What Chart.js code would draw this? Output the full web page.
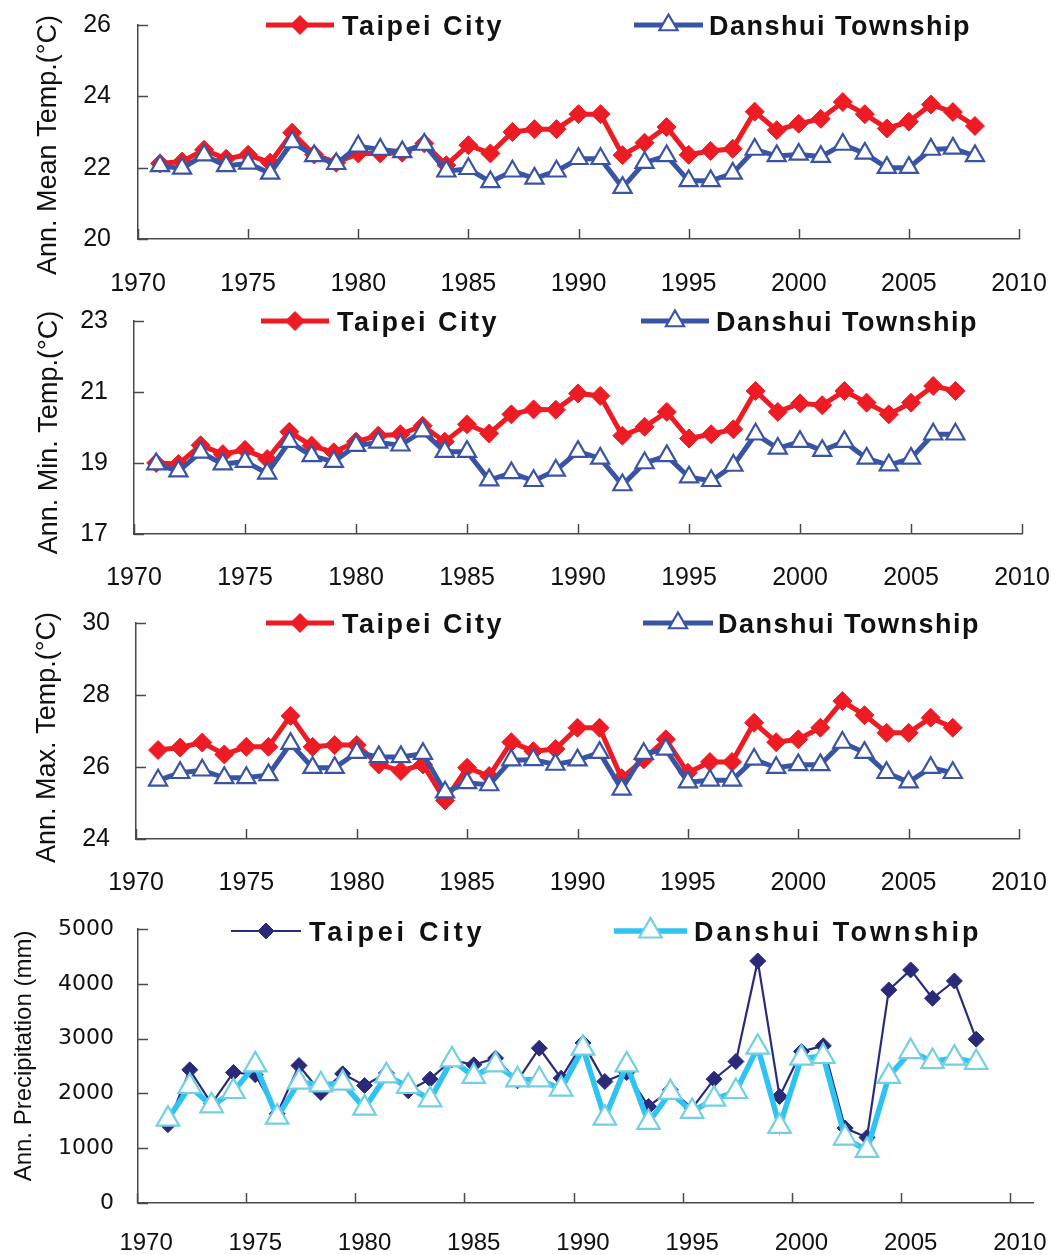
<!DOCTYPE html>
<html>
<head>
<meta charset="utf-8">
<script src="https://cdn.jsdelivr.net/npm/chart.js@4.4.0/dist/chart.umd.min.js"></script>
<style>
html,body{margin:0;padding:0;background:#fff;}
#wrap{position:relative;width:1055px;height:1255px;overflow:hidden;}
.p{position:absolute;left:0;width:1055px;}
canvas{display:block;}
</style>
</head>
<body>
<div id="wrap">
  <div class="p" style="top:0px"><canvas id="c1" width="1055" height="300"></canvas></div>
  <div class="p" style="top:300px"><canvas id="c2" width="1055" height="300"></canvas></div>
  <div class="p" style="top:600px"><canvas id="c3" width="1055" height="300"></canvas></div>
  <div class="p" style="top:900px"><canvas id="c4" width="1055" height="355"></canvas></div>
</div>
<script>
// ---------------- DATA ----------------
const seriesNames = ['Taipei City', 'Danshui Township'];

const years38 = [1971,1972,1973,1974,1975,1976,1977,1978,1979,1980,
                 1981,1982,1983,1984,1985,1986,1987,1988,1989,1990,
                 1991,1992,1993,1994,1995,1996,1997,1998,1999,2000,
                 2001,2002,2003,2004,2005,2006,2007,2008];
const years37 = [1971,1972,1973,1974,1975,1976,1977,1978,1979,1980,
                 1981,1982,1983,1984,1985,1986,1987,1988,1989,1990,
                 1991,1992,1993,1994,1995,1996,1997,1998,1999,2000,
                 2001,2002,2003,2004,2005,2006,2007];

const meanTaipei  = [22.12,22.17,22.50,22.25,22.36,22.14,22.98,22.37,22.14,22.40,
                     22.40,22.42,22.68,22.07,22.63,22.40,23.00,23.08,23.08,23.50,
                     23.50,22.35,22.70,23.14,22.36,22.47,22.53,23.57,23.05,23.23,
                     23.37,23.84,23.50,23.10,23.29,23.77,23.56,23.17];
const meanDanshui = [22.05,21.98,22.35,22.05,22.12,21.84,22.72,22.33,22.11,22.60,
                     22.51,22.44,22.65,21.90,21.97,21.60,21.90,21.70,21.90,22.25,
                     22.25,21.44,22.14,22.33,21.63,21.63,21.84,22.51,22.33,22.37,
                     22.31,22.65,22.40,22.00,22.00,22.51,22.54,22.33];

const minTaipei   = [19.00,18.97,19.50,19.25,19.37,19.11,19.88,19.49,19.30,19.60,
                     19.77,19.81,20.05,19.60,20.09,19.83,20.37,20.51,20.50,20.96,
                     20.89,19.77,20.02,20.44,19.69,19.81,19.95,21.03,20.44,20.68,
                     20.63,21.03,20.70,20.37,20.70,21.17,21.03];
const minDanshui  = [18.97,18.77,19.30,18.97,19.04,18.71,19.60,19.20,19.04,19.49,
                     19.58,19.50,19.90,19.32,19.32,18.52,18.72,18.50,18.79,19.32,
                     19.13,18.38,19.00,19.20,18.60,18.50,18.93,19.81,19.41,19.60,
                     19.35,19.60,19.13,18.94,19.13,19.81,19.81];

const maxTaipei   = [26.47,26.54,26.68,26.35,26.56,26.56,27.42,26.56,26.61,26.61,
                     26.07,25.89,26.07,25.07,25.98,25.75,26.69,26.44,26.50,27.09,
                     27.09,25.69,26.21,26.77,25.84,26.14,26.14,27.23,26.69,26.77,
                     27.09,27.83,27.44,26.95,26.95,27.37,27.09];
const maxDanshui  = [25.63,25.84,25.91,25.70,25.70,25.78,26.65,25.98,25.98,26.40,
                     26.28,26.28,26.37,25.30,25.56,25.50,26.19,26.20,26.07,26.19,
                     26.40,25.38,26.37,26.49,25.58,25.63,25.63,26.21,25.98,26.06,
                     26.06,26.68,26.40,25.84,25.58,25.98,25.84];

const precipTaipei  = [1430,2430,1810,2382,2340,1628,2509,2017,2357,2145,
                       2370,2047,2260,2612,2521,2643,2230,2825,2278,2920,
                       2217,2381,1762,2065,1731,2260,2582,4417,1944,2764,
                       2868,1367,1197,3888,4253,3736,4052,2989];
const precipDanshui = [1531,2126,1774,2035,2521,1567,2205,2157,2187,1731,
                       2321,2126,1883,2612,2309,2521,2248,2248,2078,2825,
                       1549,2521,1470,2017,1671,1895,2035,2843,1397,2643,
                       2673,1185,960,2309,2764,2582,2643,2564];

const xTickValues = [1970,1975,1980,1985,1990,1995,2000,2005,2010];
const xTickLabels = ['1970','1975','1980','1985','1990','1995','2000','2005','2010'];
const meanTicks   = [20,22,24,26];
const minTicks    = [17,19,21,23];
const maxTicks    = [24,26,28,30];
const precipTicks = [0,1000,2000,3000,4000,5000];
const precipTickLabels = ['0','1000','2000','3000','4000','5000'];

// ---------------- STYLE ----------------
const SANS = "'Liberation Sans', Arial, Helvetica, sans-serif";
const RED = '#ED1C24', BLUE = '#3A54A5', NAVY = '#2B2A78', SKY = '#2FC3F1', SKYMK = '#72D0E2';
const AXIS = '#4a4a4a';

function pts(xs, ys) { return xs.map((x, i) => ({x: x, y: ys[i]})); }

function drawMarker(ctx, ds, x, y) {
  const o = {pointStyle: ds.pointStyle, radius: ds.pointRadius, borderWidth: ds.pointBorderWidth, rotation: 0};
  ctx.save();
  ctx.fillStyle = ds.pointBackgroundColor;
  ctx.strokeStyle = ds.pointBorderColor;
  ctx.lineWidth = ds.pointBorderWidth;
  if (Chart.helpers && Chart.helpers.drawPoint) {
    Chart.helpers.drawPoint(ctx, o, x, y);
  } else {
    const r = ds.pointRadius;
    ctx.beginPath();
    if (ds.pointStyle === 'triangle') {
      ctx.moveTo(x, y - r);
      ctx.lineTo(x + Math.sin(2*Math.PI/3) * r, y - Math.cos(2*Math.PI/3) * r);
      ctx.lineTo(x + Math.sin(4*Math.PI/3) * r, y - Math.cos(4*Math.PI/3) * r);
    } else {
      ctx.moveTo(x - r, y); ctx.lineTo(x, y - r); ctx.lineTo(x + r, y); ctx.lineTo(x, y + r);
    }
    ctx.closePath(); ctx.fill(); if (ds.pointBorderWidth > 0) ctx.stroke();
  }
  ctx.restore();
}

const decor = {
  id: 'decor',
  afterDraw(chart, args, o) {
    const ctx = chart.ctx, xs = chart.scales.x, ys = chart.scales.y, ca = chart.chartArea;
    ctx.save();
    // inward tick marks
    ctx.strokeStyle = AXIS; ctx.lineWidth = 1.5;
    ys.ticks.forEach(t => {
      const py = Math.round(ys.getPixelForValue(t.value)) + 0.5;
      ctx.beginPath(); ctx.moveTo(ca.left, py); ctx.lineTo(ca.left + o.tickLen, py); ctx.stroke();
    });
    xs.ticks.forEach(t => {
      const px = Math.round(xs.getPixelForValue(t.value + o.xTickShift)) + 0.5;
      ctx.beginPath(); ctx.moveTo(px, ca.bottom); ctx.lineTo(px, ca.bottom - o.tickLen); ctx.stroke();
    });
    // legend
    o.legend.forEach(it => {
      const ds = chart.data.datasets[it.ds];
      ctx.save();
      ctx.strokeStyle = ds.borderColor; ctx.lineWidth = ds.borderWidth;
      ctx.beginPath(); ctx.moveTo(it.x0, o.legendY); ctx.lineTo(it.x1, o.legendY); ctx.stroke();
      ctx.restore();
      drawMarker(ctx, ds, (it.x0 + it.x1) / 2, o.legendY);
      ctx.save();
      ctx.fillStyle = '#111';
      ctx.font = 'bold ' + o.legendSize + 'px ' + SANS;
      ctx.textAlign = 'left'; ctx.textBaseline = 'alphabetic';
      try { ctx.letterSpacing = it.spacing + 'px'; } catch (e) {}
      ctx.fillText(ds.label, it.tx, o.legendY + o.legendSize * 0.36);
      ctx.restore();
    });
    // y-axis title
    ctx.save();
    ctx.fillStyle = '#111';
    ctx.font = o.titleSize + 'px ' + SANS;
    ctx.translate(o.titleX, o.titleY); ctx.rotate(-Math.PI / 2);
    ctx.textAlign = 'center'; ctx.textBaseline = 'middle';
    ctx.fillText(o.title, 0, 0);
    ctx.restore();
    ctx.restore();
  }
};

function makePanel(p) {
  const W = 1055;
  const ds = p.precip ? [
    { label: seriesNames[0], data: pts(p.xTaipei, p.taipei), order: 1,
      borderColor: NAVY, borderWidth: 2.2, tension: 0,
      pointStyle: 'rectRot', pointRadius: 8, pointHoverRadius: 8,
      pointBackgroundColor: NAVY, pointBorderColor: NAVY, pointBorderWidth: 1 },
    { label: seriesNames[1], data: pts(p.xDanshui, p.danshui), order: 0,
      borderColor: SKY, borderWidth: 5.5, tension: 0,
      pointStyle: 'triangle', pointRadius: 13, pointHoverRadius: 13,
      pointBackgroundColor: '#ffffff', pointBorderColor: SKYMK, pointBorderWidth: 2.2 }
  ] : [
    { label: seriesNames[0], data: pts(p.xTaipei, p.taipei), order: 1,
      borderColor: RED, borderWidth: 5, tension: 0,
      pointStyle: 'rectRot', pointRadius: 9.5, pointHoverRadius: 9.5,
      pointBackgroundColor: RED, pointBorderColor: RED, pointBorderWidth: 1 },
    { label: seriesNames[1], data: pts(p.xDanshui, p.danshui), order: 0,
      borderColor: BLUE, borderWidth: 5, tension: 0,
      pointStyle: 'triangle', pointRadius: 10.5, pointHoverRadius: 10.5,
      pointBackgroundColor: '#ffffff', pointBorderColor: BLUE, pointBorderWidth: 2.2 }
  ];
  const a = p.area;
  return new Chart(document.getElementById(p.id), {
    type: 'line',
    data: { datasets: ds },
    plugins: [decor],
    options: {
      responsive: false, animation: false, devicePixelRatio: 1,
      layout: { padding: { left: 0, right: W - a.r, top: a.t, bottom: 0 } },
      plugins: {
        legend: { display: false }, tooltip: { enabled: false },
        decor: {
          tickLen: 10, xTickShift: p.xTickShift, legend: p.legend, legendY: p.legendY,
          legendSize: p.legendSize, title: p.title, titleX: p.titleX, titleY: p.titleY, titleSize: p.titleSize
        }
      },
      scales: {
        x: {
          type: 'linear', min: p.xMin, max: p.xMax,
          afterBuildTicks: s => { s.ticks = xTickValues.map(v => ({ value: v })); },
          afterFit: s => { s.height = p.H - a.b; s.paddingLeft = 0; s.paddingRight = 0; },
          grid: { display: true, drawOnChartArea: false, drawTicks: false },
          border: { display: true, color: AXIS, width: 1.5 },
          ticks: { padding: p.xPad, color: '#111', maxRotation: 0, autoSkip: false,
                   font: { family: SANS, size: p.xFont },
                   callback: (v, i) => xTickLabels[i] }
        },
        y: {
          type: 'linear', min: p.yTicks[0], max: p.yTicks[p.yTicks.length - 1],
          afterBuildTicks: s => { s.ticks = p.yTicks.map(v => ({ value: v })); },
          afterFit: s => { s.width = a.l; s.paddingTop = 0; s.paddingBottom = 0; },
          grid: { display: true, drawOnChartArea: false, drawTicks: false },
          border: { display: true, color: AXIS, width: 1.5 },
          ticks: { padding: p.yPad, color: '#111', autoSkip: false,
                   font: { family: p.yFontFamily || SANS, size: p.yFont },
                   callback: (v, i) => p.yLabels[i] }
        }
      }
    }
  });
}

makePanel({
  id: 'c1', H: 300, area: { l: 138, r: 1019, t: 25, b: 239 },
  xTaipei: years38, taipei: meanTaipei, xDanshui: years38, danshui: meanDanshui,
  xMin: 1970, xMax: 2010, xTickShift: 0, xPad: 30, xFont: 25,
  yTicks: meanTicks, yLabels: meanTicks.map(String), yPad: 27, yFont: 25,
  legendY: 25, legendSize: 27,
  legend: [ { ds: 0, x0: 266, x1: 334, tx: 342, spacing: 2.5 },
            { ds: 1, x0: 634, x1: 703, tx: 709, spacing: 1.5 } ],
  title: 'Ann. Mean Temp.(°C)', titleX: 49, titleY: 145, titleSize: 27
});

makePanel({
  id: 'c2', H: 300, area: { l: 134, r: 1022, t: 21, b: 234 },
  xTaipei: years37, taipei: minTaipei, xDanshui: years37, danshui: minDanshui,
  xMin: 1970, xMax: 2010, xTickShift: 0, xPad: 29, xFont: 25,
  yTicks: minTicks, yLabels: minTicks.map(String), yPad: 26, yFont: 25,
  legendY: 21, legendSize: 27,
  legend: [ { ds: 0, x0: 261, x1: 329, tx: 337, spacing: 2.5 },
            { ds: 1, x0: 641, x1: 709, tx: 716, spacing: 1.5 } ],
  title: 'Ann. Min. Temp.(°C)', titleX: 50, titleY: 132.5, titleSize: 27
});

makePanel({
  id: 'c3', H: 300, area: { l: 136, r: 1019, t: 23, b: 239 },
  xTaipei: years37, taipei: maxTaipei, xDanshui: years37, danshui: maxDanshui,
  xMin: 1970, xMax: 2010, xTickShift: 0, xPad: 29, xFont: 25,
  yTicks: maxTicks, yLabels: maxTicks.map(String), yPad: 26, yFont: 25,
  legendY: 23, legendSize: 27,
  legend: [ { ds: 0, x0: 266, x1: 334, tx: 342, spacing: 2.5 },
            { ds: 1, x0: 643, x1: 713, tx: 718, spacing: 1.5 } ],
  title: 'Ann. Max. Temp.(°C)', titleX: 48, titleY: 137.5, titleSize: 27
});

makePanel({
  id: 'c4', H: 355, area: { l: 138, r: 1033, t: 29, b: 303 }, precip: true,
  xTaipei: years38, taipei: precipTaipei, xDanshui: years38, danshui: precipDanshui,
  xMin: 1969.63, xMax: 2010.6, xTickShift: -0.43, xPad: 25.5, xFont: 24,
  yTicks: precipTicks, yLabels: precipTickLabels, yPad: 24, yFont: 22, yFontFamily: "'DejaVu Sans', sans-serif",
  legendY: 31, legendSize: 27,
  legend: [ { ds: 0, x0: 231, x1: 301, tx: 309, spacing: 3.8 },
            { ds: 1, x0: 614, x1: 687, tx: 694, spacing: 3.1 } ],
  title: 'Ann. Precipitation (mm)', titleX: 24, titleY: 156, titleSize: 24
});
</script>
</body>
</html>
